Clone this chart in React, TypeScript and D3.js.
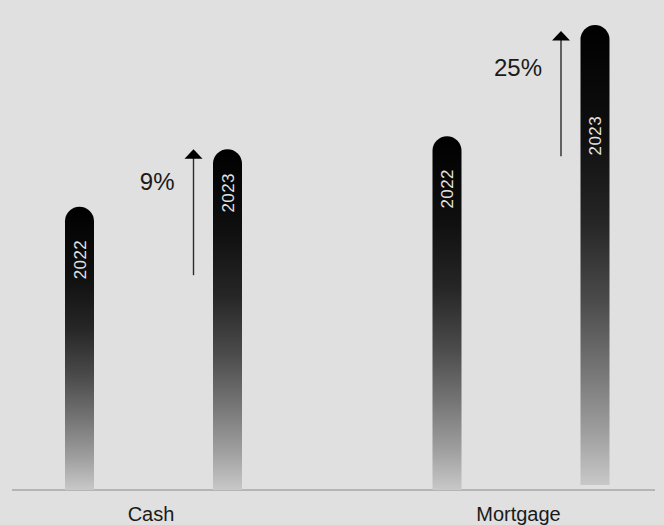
import React from 'react';
import * as d3 from 'd3';

// ---- data ----
const categories = ['Cash', 'Mortgage'];
const years = ['2022', '2023'];
const values2022 = [60.9, 76.1];
const values2023 = [73.3, 100];
const changeLabels = ['9%', '25%'];
const arrowFrom = [46.2, 71.8];
const arrowTo = [73.3, 98.7];
const changeLabelAt = [64.5, 89];

// ---- style ----
const W = 664;
const H = 525;
const BG = '#e0e0e0';
const FONT = '"Liberation Sans", Arial, sans-serif';
const BAR_W = 29;
const yearInset = [[33, 24], [33, 91]];
const baseInset = [[0, 0], [0, 5]];

export default function App() {
  const y = d3.scaleLinear().domain([0, 100]).range([490, 25]);
  const x = d3.scalePoint<string>().domain(categories).range([153.5, 521]);
  const inner = d3.scalePoint<string>().domain(years).range([-74, 74]);

  const bars: { key: string; cx: number; top: number; bottom: number; year: string; inset: number }[] = [];
  categories.forEach((c, i) => {
    const vals = [values2022[i], values2023[i]];
    years.forEach((yr, j) => {
      bars.push({
        key: c + yr,
        cx: (x(c) as number) + (inner(yr) as number),
        top: y(vals[j]),
        bottom: y(0) - baseInset[i][j],
        year: yr,
        inset: yearInset[i][j],
      });
    });
  });

  const barPath = (cx: number, top: number, bottom: number) => {
    const r = BAR_W / 2;
    const x0 = cx - r;
    const x1 = cx + r;
    const p = d3.path();
    p.moveTo(x0, bottom);
    p.lineTo(x0, top + r);
    p.arc(cx, top + r, r, Math.PI, 0);
    p.lineTo(x1, bottom);
    p.closePath();
    return p.toString();
  };

  return (
    <svg width={W} height={H} style={{ position: 'absolute', left: 0, top: 0, background: BG }}>
      <defs>
        <linearGradient id="barGrad" x1="0" y1="0" x2="0" y2="1">
          <stop offset="0" stopColor="#000000" />
          <stop offset="0.25" stopColor="#101010" />
          <stop offset="0.43" stopColor="#262626" />
          <stop offset="0.6" stopColor="#4b4b4b" />
          <stop offset="0.75" stopColor="#757575" />
          <stop offset="0.89" stopColor="#a0a0a0" />
          <stop offset="1" stopColor="#c8c8c8" />
        </linearGradient>
      </defs>
      <rect x={0} y={0} width={W} height={H} fill={BG} />
      <line x1={12} x2={655} y1={y(0)} y2={y(0)} stroke="#8a8a8a" strokeWidth={1.2} />
      {bars.map((b) => (
        <g key={b.key}>
          <path d={barPath(b.cx, b.top, b.bottom)} fill="url(#barGrad)" />
          <text
            transform={`translate(${b.cx},${b.top + b.inset}) rotate(-90)`}
            textAnchor="end"
            dy="0.36em"
            fill="#e2e2e2"
            fontFamily={FONT}
            fontSize={17}
            letterSpacing={0.4}
          >
            {b.year}
          </text>
        </g>
      ))}
      {categories.map((c, i) => {
        const ax = (x(c) as number) + (inner('2023') as number) - 34;
        const tipY = y(arrowTo[i]);
        return (
          <g key={c + 'arrow'}>
            <line x1={ax} x2={ax} y1={y(arrowFrom[i])} y2={tipY + 8} stroke="#2a2a2a" strokeWidth={1.4} />
            <path d={`M${ax},${tipY} L${ax + 9},${tipY + 9.5} L${ax - 9},${tipY + 9.5} Z`} fill="#000" />
            <text
              x={ax - 19}
              y={y(changeLabelAt[i])}
              textAnchor="end"
              fontFamily={FONT}
              fontSize={24}
              fill="#1a1a1a"
            >
              {changeLabels[i]}
            </text>
            <text
              x={(x(c) as number) - 2.5}
              y={521}
              textAnchor="middle"
              fontFamily={FONT}
              fontSize={20}
              fill="#1a1a1a"
            >
              {c}
            </text>
          </g>
        );
      })}
    </svg>
  );
}
